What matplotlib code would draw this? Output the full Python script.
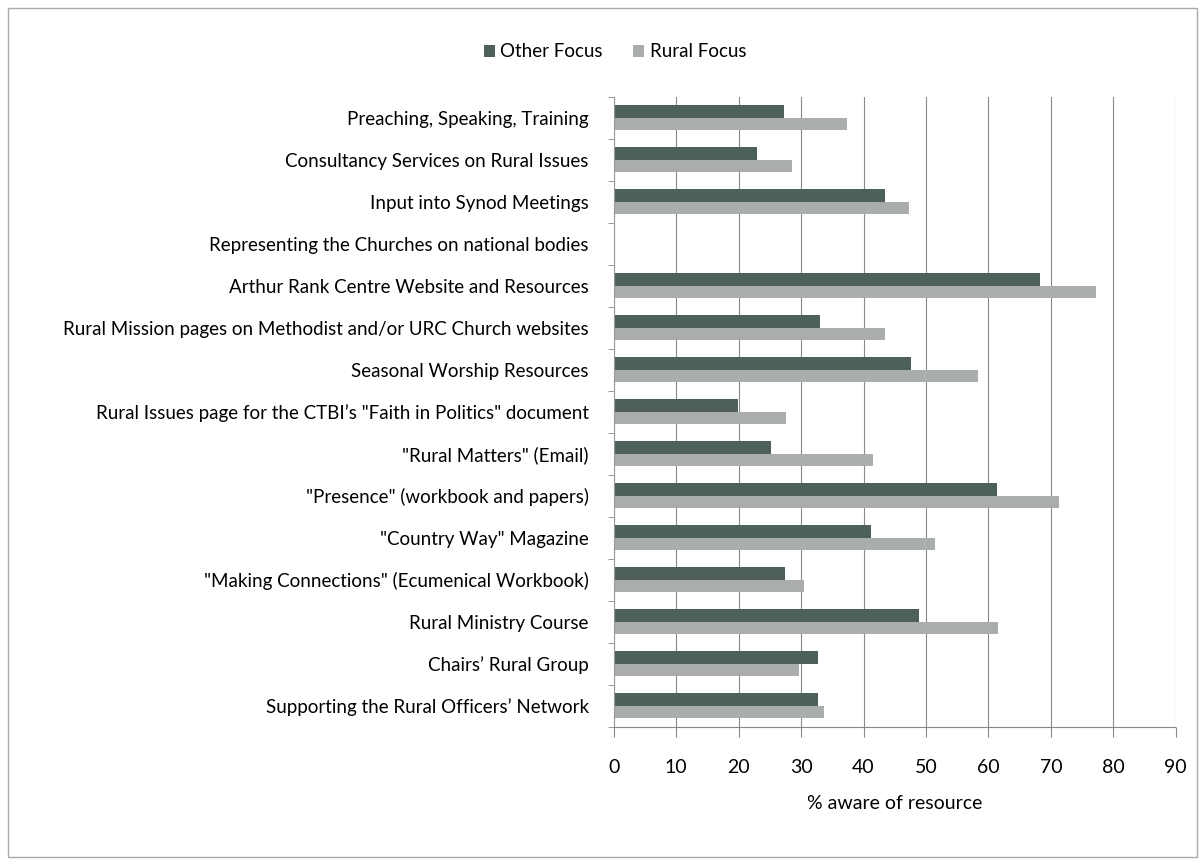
import numpy as np
import matplotlib.pyplot as plt
from matplotlib.patches import Rectangle

categorias = [
    "Preaching, Speaking, Training",
    "Consultancy Services on Rural Issues",
    "Input into Synod Meetings",
    "Representing the Churches on national bodies",
    "Arthur Rank Centre Website and Resources",
    "Rural Mission pages on Methodist and/or URC Church websites",
    "Seasonal Worship Resources",
    "Rural Issues page for the CTBI\u2019s \"Faith in Politics\" document",
    "\"Rural Matters\" (Email)",
    "\"Presence\" (workbook and papers)",
    "\"Country Way\" Magazine",
    "\"Making Connections\" (Ecumenical Workbook)",
    "Rural Ministry Course",
    "Chairs\u2019 Rural Group",
    "Supporting the Rural Officers\u2019 Network",
]
other_focus = [27.2, 22.9, 43.4, 0, 68.3, 33.1, 47.6, 19.9, 25.2, 61.4, 41.2, 27.4, 48.9, 32.7, 32.7]
rural_focus = [37.4, 28.5, 47.3, 0, 77.2, 43.5, 58.4, 27.6, 41.5, 71.3, 51.4, 30.5, 61.5, 29.6, 33.7]
ticks_x = [0, 10, 20, 30, 40, 50, 60, 70, 80, 90]

plt.rcParams['font.family'] = ['Lato', 'DejaVu Sans']

fig = plt.figure(figsize=(12.01, 8.64), dpi=100)
ax = fig.add_axes([0.511, 0.159, 0.468, 0.729])

y = np.arange(len(categorias))
h = 0.3
ax.barh(y - h / 2, other_focus, height=h, color='#4d605c', label='Other Focus')
ax.barh(y + h / 2, rural_focus, height=h, color='#a9adab', label='Rural Focus')

ax.set_ylim(len(categorias) - 0.5, -0.5)
ax.set_xlim(0, 90)
ax.set_yticks(y)
ax.set_yticklabels(categorias, fontsize=13.5)
ax.set_yticks(np.arange(-0.5, len(categorias), 1), minor=True)
ax.tick_params(axis='y', which='major', length=0, pad=18)
ax.tick_params(axis='y', which='minor', length=4, color='#888888')
ax.set_xticks(ticks_x)
ax.tick_params(axis='x', length=7, color='#888888', labelsize=14, pad=16)
ax.set_xlabel('% aware of resource', fontsize=14, labelpad=14)

ax.grid(axis='x', color='#8a8a8a', linewidth=0.8)
ax.set_axisbelow(True)
for s in ['top', 'right']:
    ax.spines[s].set_visible(False)
ax.spines['left'].set_color('#999999')
ax.spines['bottom'].set_color('#888888')
ax.spines['bottom'].set_linestyle((0, (1, 1)))

fig.legend(loc='center', bbox_to_anchor=(0.512, 0.94), ncol=2, frameon=False,
           fontsize=13.5, handlelength=0.6, handleheight=0.6, columnspacing=1.6, handletextpad=0.3)

fig.patches.append(Rectangle((0.007, 0.008), 0.99, 0.983, transform=fig.transFigure,
                             fill=False, edgecolor='#aaaaaa', linewidth=1))

fig.savefig('out.png', dpi=100)
